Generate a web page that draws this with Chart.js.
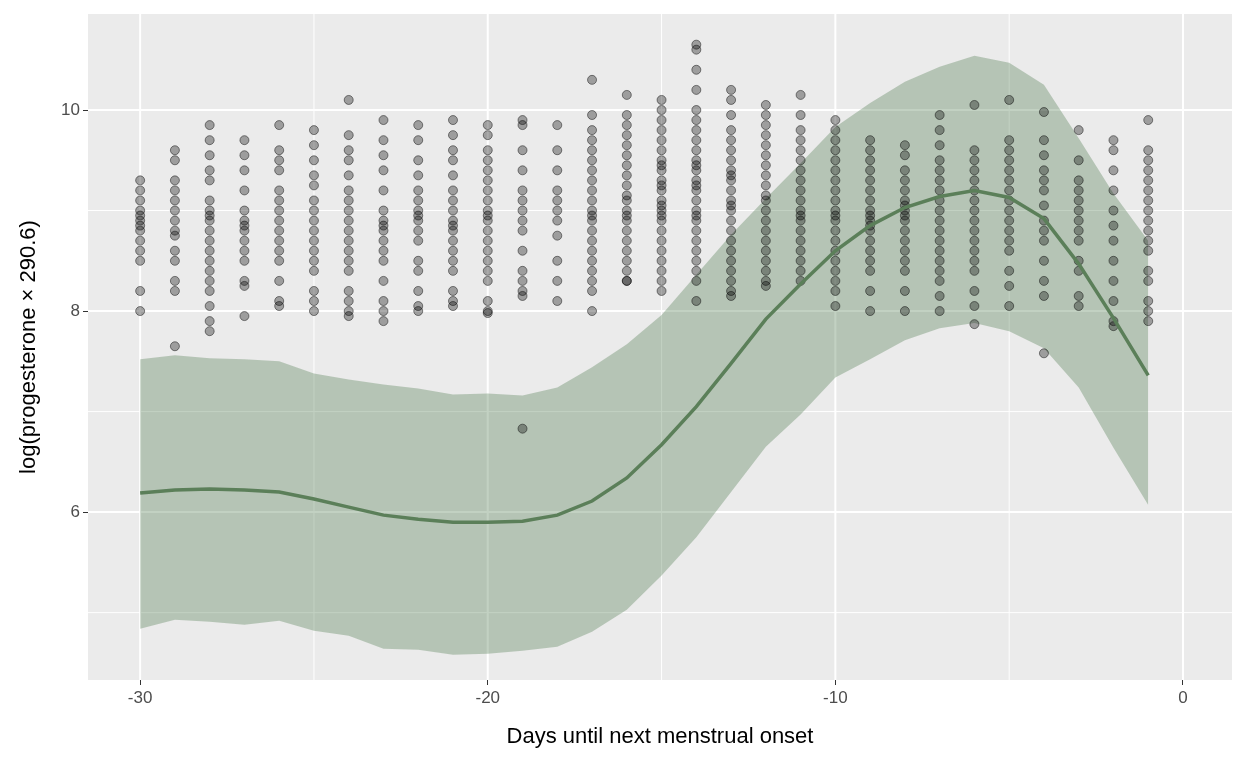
<!DOCTYPE html>
<html>
<head>
<meta charset="utf-8">
<script src="https://cdn.jsdelivr.net/npm/chart.js@4/dist/chart.umd.min.js"></script>
<style>
  html, body { margin: 0; padding: 0; background: #fff; }
  #wrap { width: 1248px; height: 768px; }
</style>
</head>
<body>
<div id="wrap"><canvas id="chart" width="1248" height="768"></canvas></div>
<script>
// Days before onset
const days = [-30,-29,-28,-27,-26,-25,-24,-23,-22,-21,-20,-19,-18,-17,-16,-15,-14,-13,-12,-11,-10,-9,-8,-7,-6,-5,-4,-3,-2,-1];

// Fitted mean and ribbon
const fitMean  = [6.19,6.22,6.23,6.22,6.20,6.13,6.05,5.97,5.93,5.90,5.90,5.91,5.97,6.11,6.34,6.67,7.05,7.48,7.92,8.27,8.60,8.85,9.03,9.14,9.20,9.13,8.92,8.47,7.93,7.36];
const fitUpper = [7.52,7.56,7.53,7.52,7.50,7.38,7.32,7.27,7.23,7.17,7.18,7.16,7.24,7.44,7.67,7.96,8.36,8.76,9.12,9.47,9.83,10.07,10.28,10.43,10.54,10.47,10.25,9.72,9.17,8.70];
const fitLower = [4.84,4.93,4.91,4.88,4.92,4.82,4.77,4.64,4.63,4.58,4.59,4.62,4.66,4.81,5.03,5.37,5.75,6.20,6.65,6.97,7.34,7.52,7.71,7.83,7.88,7.80,7.63,7.24,6.64,6.07];

// Observed values per day (same order as days)
const observed = [
  [9.3,9.2,9.1,9.0,8.95,8.9,8.85,8.8,8.7,8.6,8.5,8.2,8.0],
  [9.6,9.5,9.3,9.2,9.1,9.0,8.9,8.8,8.75,8.6,8.5,8.3,8.2,7.65],
  [9.85,9.7,9.55,9.4,9.3,9.1,9.0,8.95,8.9,8.8,8.7,8.6,8.5,8.4,8.3,8.2,8.05,7.9,7.8],
  [9.7,9.55,9.4,9.2,9.0,8.9,8.85,8.8,8.7,8.6,8.5,8.3,8.25,7.95],
  [9.85,9.6,9.5,9.4,9.2,9.1,9.0,8.9,8.8,8.7,8.6,8.5,8.3,8.1,8.05],
  [9.8,9.65,9.5,9.35,9.25,9.1,9.0,8.9,8.8,8.7,8.6,8.5,8.4,8.2,8.1,8.0],
  [10.1,9.75,9.6,9.5,9.35,9.2,9.1,9.0,8.9,8.8,8.7,8.6,8.5,8.4,8.2,8.1,8.0,7.95],
  [9.9,9.7,9.55,9.4,9.2,9.0,8.9,8.85,8.8,8.7,8.6,8.5,8.3,8.1,8.0,7.9],
  [9.85,9.7,9.5,9.35,9.2,9.1,9.0,8.95,8.9,8.8,8.7,8.5,8.4,8.2,8.05,8.0],
  [9.9,9.75,9.6,9.5,9.35,9.2,9.1,9.0,8.9,8.85,8.8,8.7,8.6,8.5,8.4,8.2,8.1,8.05],
  [9.85,9.75,9.6,9.5,9.4,9.3,9.2,9.1,9.0,8.95,8.9,8.8,8.7,8.6,8.5,8.4,8.3,8.1,8.0,7.98],
  [9.9,9.85,9.6,9.4,9.2,9.1,9.0,8.9,8.8,8.6,8.4,8.3,8.2,8.15,6.83],
  [9.85,9.6,9.4,9.2,9.1,9.0,8.9,8.75,8.5,8.3,8.1],
  [10.3,9.95,9.8,9.7,9.6,9.5,9.4,9.3,9.2,9.1,9.0,8.95,8.9,8.8,8.7,8.6,8.5,8.4,8.3,8.2,8.0],
  [10.15,9.95,9.85,9.75,9.65,9.55,9.45,9.35,9.25,9.15,9.1,9.0,8.95,8.9,8.8,8.7,8.6,8.5,8.4,8.3,8.3],
  [10.1,10.0,9.9,9.8,9.7,9.6,9.5,9.45,9.4,9.3,9.25,9.2,9.1,9.05,9.0,8.95,8.9,8.8,8.7,8.6,8.5,8.4,8.3,8.2],
  [10.65,10.6,10.4,10.2,10.0,9.9,9.8,9.7,9.6,9.5,9.45,9.4,9.3,9.25,9.2,9.1,9.0,8.95,8.9,8.8,8.7,8.6,8.5,8.4,8.3,8.1],
  [10.2,10.1,9.95,9.8,9.7,9.6,9.5,9.4,9.35,9.3,9.2,9.1,9.05,9.0,8.9,8.8,8.7,8.6,8.5,8.4,8.3,8.2,8.15],
  [10.05,9.95,9.85,9.75,9.65,9.55,9.45,9.35,9.25,9.15,9.1,9.0,8.9,8.8,8.7,8.6,8.5,8.4,8.3,8.25],
  [10.15,9.95,9.8,9.7,9.6,9.5,9.4,9.3,9.2,9.1,9.0,8.95,8.9,8.8,8.7,8.6,8.5,8.4,8.3],
  [9.9,9.8,9.7,9.6,9.5,9.4,9.3,9.2,9.1,9.0,8.95,8.9,8.8,8.7,8.6,8.5,8.4,8.3,8.2,8.05],
  [9.7,9.6,9.5,9.4,9.3,9.2,9.1,9.0,8.95,8.9,8.85,8.8,8.7,8.6,8.5,8.4,8.2,8.0],
  [9.65,9.55,9.4,9.3,9.2,9.1,9.05,9.0,8.95,8.9,8.8,8.7,8.6,8.5,8.4,8.2,8.0],
  [9.95,9.8,9.65,9.5,9.4,9.3,9.2,9.1,9.0,8.9,8.8,8.7,8.6,8.5,8.4,8.3,8.15,8.0],
  [10.05,9.6,9.5,9.4,9.3,9.2,9.1,9.0,8.9,8.8,8.7,8.6,8.5,8.4,8.2,8.05,7.87],
  [10.1,9.7,9.6,9.5,9.4,9.3,9.2,9.1,9.0,8.9,8.8,8.7,8.6,8.4,8.25,8.05],
  [9.98,9.7,9.55,9.4,9.3,9.2,9.05,8.9,8.8,8.7,8.5,8.3,8.15,7.58],
  [9.8,9.5,9.3,9.2,9.1,9.0,8.9,8.8,8.7,8.5,8.4,8.15,8.05],
  [9.7,9.6,9.4,9.2,9.0,8.85,8.7,8.5,8.3,8.1,7.9,7.85],
  [9.9,9.6,9.5,9.4,9.3,9.2,9.1,9.0,8.9,8.8,8.7,8.6,8.4,8.3,8.1,8.0,7.9]
];

const xMajor = [-30, -20, -10, 0];
const xMinor = [-25, -15, -5];
const yMajor = [6, 8, 10];
const yMinor = [5, 7, 9];

const points = [];
days.forEach((d, i) => observed[i].forEach(v => points.push({ x: d, y: v })));
const pairs = arr => days.map((d, i) => ({ x: d, y: arr[i] }));

// ggplot grey panel with white grid
const panel = {
  id: 'panel',
  beforeDatasetsDraw(chart) {
    const { ctx, chartArea: a, scales: { x, y } } = chart;
    ctx.save();
    ctx.fillStyle = '#EBEBEB';
    ctx.fillRect(a.left, a.top, a.right - a.left, a.bottom - a.top);
    ctx.strokeStyle = '#fff';
    const line = (x1, y1, x2, y2, w) => {
      ctx.lineWidth = w;
      ctx.beginPath(); ctx.moveTo(x1, y1); ctx.lineTo(x2, y2); ctx.stroke();
    };
    xMinor.forEach(v => line(x.getPixelForValue(v), a.top, x.getPixelForValue(v), a.bottom, 1));
    yMinor.forEach(v => line(a.left, y.getPixelForValue(v), a.right, y.getPixelForValue(v), 1));
    xMajor.forEach(v => line(x.getPixelForValue(v), a.top, x.getPixelForValue(v), a.bottom, 2));
    yMajor.forEach(v => line(a.left, y.getPixelForValue(v), a.right, y.getPixelForValue(v), 2));
    ctx.restore();
  }
};

new Chart(document.getElementById('chart'), {
  type: 'scatter',
  data: {
    datasets: [
      {
        type: 'line', data: pairs(fitUpper), borderWidth: 0, pointRadius: 0,
        fill: '+1', backgroundColor: 'rgba(95,135,95,0.38)', order: 3
      },
      {
        type: 'line', data: pairs(fitLower), borderWidth: 0, pointRadius: 0,
        fill: false, order: 4
      },
      {
        data: points, pointRadius: 4.5, borderWidth: 1,
        backgroundColor: 'rgba(0,0,0,0.33)', borderColor: 'rgba(0,0,0,0.45)', order: 2
      },
      {
        type: 'line', data: pairs(fitMean), borderColor: '#5B7F59', borderWidth: 3.5,
        pointRadius: 0, fill: false, tension: 0, order: 1
      }
    ]
  },
  options: {
    responsive: false,
    animation: false,
    layout: { padding: { top: 14, right: 16, left: 12, bottom: 14 } },
    plugins: { legend: { display: false }, tooltip: { enabled: false } },
    scales: {
      x: {
        type: 'linear', min: -31.5, max: 1.41,
        afterBuildTicks: s => { s.ticks = xMajor.map(v => ({ value: v })); },
        afterFit: s => { s.height = 74; },
        grid: { drawOnChartArea: false, tickLength: 5, color: '#333' },
        border: { display: false },
        ticks: { color: '#4D4D4D', font: { family: 'Liberation Sans', size: 17 }, padding: 3 },
        title: { display: true, text: 'Days until next menstrual onset', color: '#000',
                 font: { family: 'Liberation Sans', size: 22 }, padding: { top: 2 } }
      },
      y: {
        type: 'linear', min: 4.33, max: 10.955,
        afterBuildTicks: s => { s.ticks = yMajor.map(v => ({ value: v })); },
        afterFit: s => { s.width = 76; },
        grid: { drawOnChartArea: false, tickLength: 5, color: '#333' },
        border: { display: false },
        ticks: { color: '#4D4D4D', font: { family: 'Liberation Sans', size: 17 }, padding: 3 },
        title: { display: true, text: 'log(progesterone × 290.6)', color: '#000',
                 font: { family: 'Liberation Sans', size: 22 }, padding: { bottom: 4 } }
      }
    }
  },
  plugins: [panel]
});
</script>
</body>
</html>
